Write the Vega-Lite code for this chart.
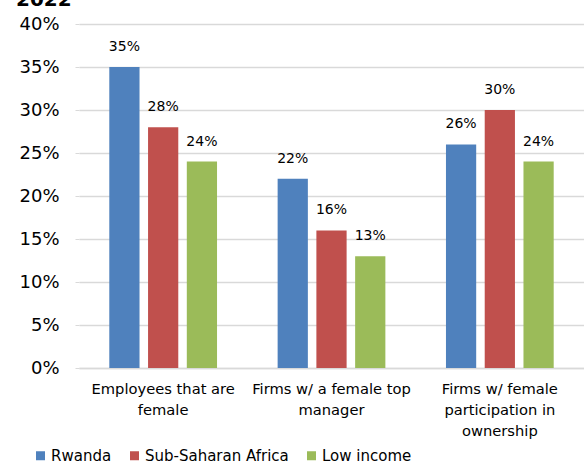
{
  "$schema": "https://vega.github.io/schema/vega-lite/v6.json",
  "width": 505,
  "height": 344,
  "padding": {"top": -10, "left": 15, "right": 0, "bottom": 0},
  "background": "white",
  "title": {"text": "2022", "anchor": "start", "frame": "bounds", "fontSize": 20, "fontWeight": "bold", "font": "DejaVu Sans", "color": "black", "offset": 5, "dx": -3},
  "data": {"values": [
    {"cat": "Employees that are|female", "group": "Rwanda", "value": 0.35},
    {"cat": "Employees that are|female", "group": "Sub-Saharan Africa", "value": 0.28},
    {"cat": "Employees that are|female", "group": "Low income", "value": 0.24},
    {"cat": "Firms w/ a female top|manager", "group": "Rwanda", "value": 0.22},
    {"cat": "Firms w/ a female top|manager", "group": "Sub-Saharan Africa", "value": 0.16},
    {"cat": "Firms w/ a female top|manager", "group": "Low income", "value": 0.13},
    {"cat": "Firms w/ female|participation in|ownership", "group": "Rwanda", "value": 0.26},
    {"cat": "Firms w/ female|participation in|ownership", "group": "Sub-Saharan Africa", "value": 0.30},
    {"cat": "Firms w/ female|participation in|ownership", "group": "Low income", "value": 0.24}
  ]},
  "encoding": {
    "x": {"field": "cat", "type": "nominal", "sort": null,
      "scale": {"paddingInner": 0.36, "paddingOuter": 0.18},
      "axis": {"title": null, "labelAngle": 0, "labelExpr": "split(datum.label, '|')", "labelFont": "DejaVu Sans", "labelFontSize": 14.7, "labelColor": "black", "labelPadding": 13, "domainColor": "#d9d9d9", "domainWidth": 1.5, "ticks": false, "labelLineHeight": 21}},
    "xOffset": {"field": "group", "type": "nominal", "sort": ["Rwanda", "Sub-Saharan Africa", "Low income"], "scale": {"paddingInner": 0.22}},
    "y": {"field": "value", "type": "quantitative",
      "scale": {"domain": [0, 0.4]},
      "axis": {"title": null, "format": ".0%", "values": [0, 0.05, 0.1, 0.15, 0.2, 0.25, 0.3, 0.35, 0.4], "labelFont": "DejaVu Sans", "labelFontSize": 18, "labelColor": "black", "labelPadding": 16, "domain": false, "ticks": true, "tickColor": "#d9d9d9", "tickSize": 4, "gridColor": "#d9d9d9", "gridWidth": 1.5}}
  },
  "layer": [
    {"mark": {"type": "bar"},
     "encoding": {"color": {"field": "group", "type": "nominal", "sort": ["Rwanda", "Sub-Saharan Africa", "Low income"],
       "scale": {"domain": ["Rwanda", "Sub-Saharan Africa", "Low income"], "range": ["#4F81BD", "#C0504D", "#9BBB59"]},
       "legend": {"title": null, "orient": "none", "legendX": -46, "legendY": 424, "direction": "horizontal", "symbolType": "square", "symbolSize": 81, "symbolStrokeWidth": 0, "labelFont": "DejaVu Sans", "labelFontSize": 15, "labelColor": "black", "columnPadding": 15, "labelOffset": 3}}}},
    {"mark": {"type": "text", "dy": -20, "font": "DejaVu Sans", "fontSize": 14, "color": "black"},
     "encoding": {"text": {"field": "value", "type": "quantitative", "format": ".0%"}}}
  ],
  "config": {"view": {"stroke": null}}
}
